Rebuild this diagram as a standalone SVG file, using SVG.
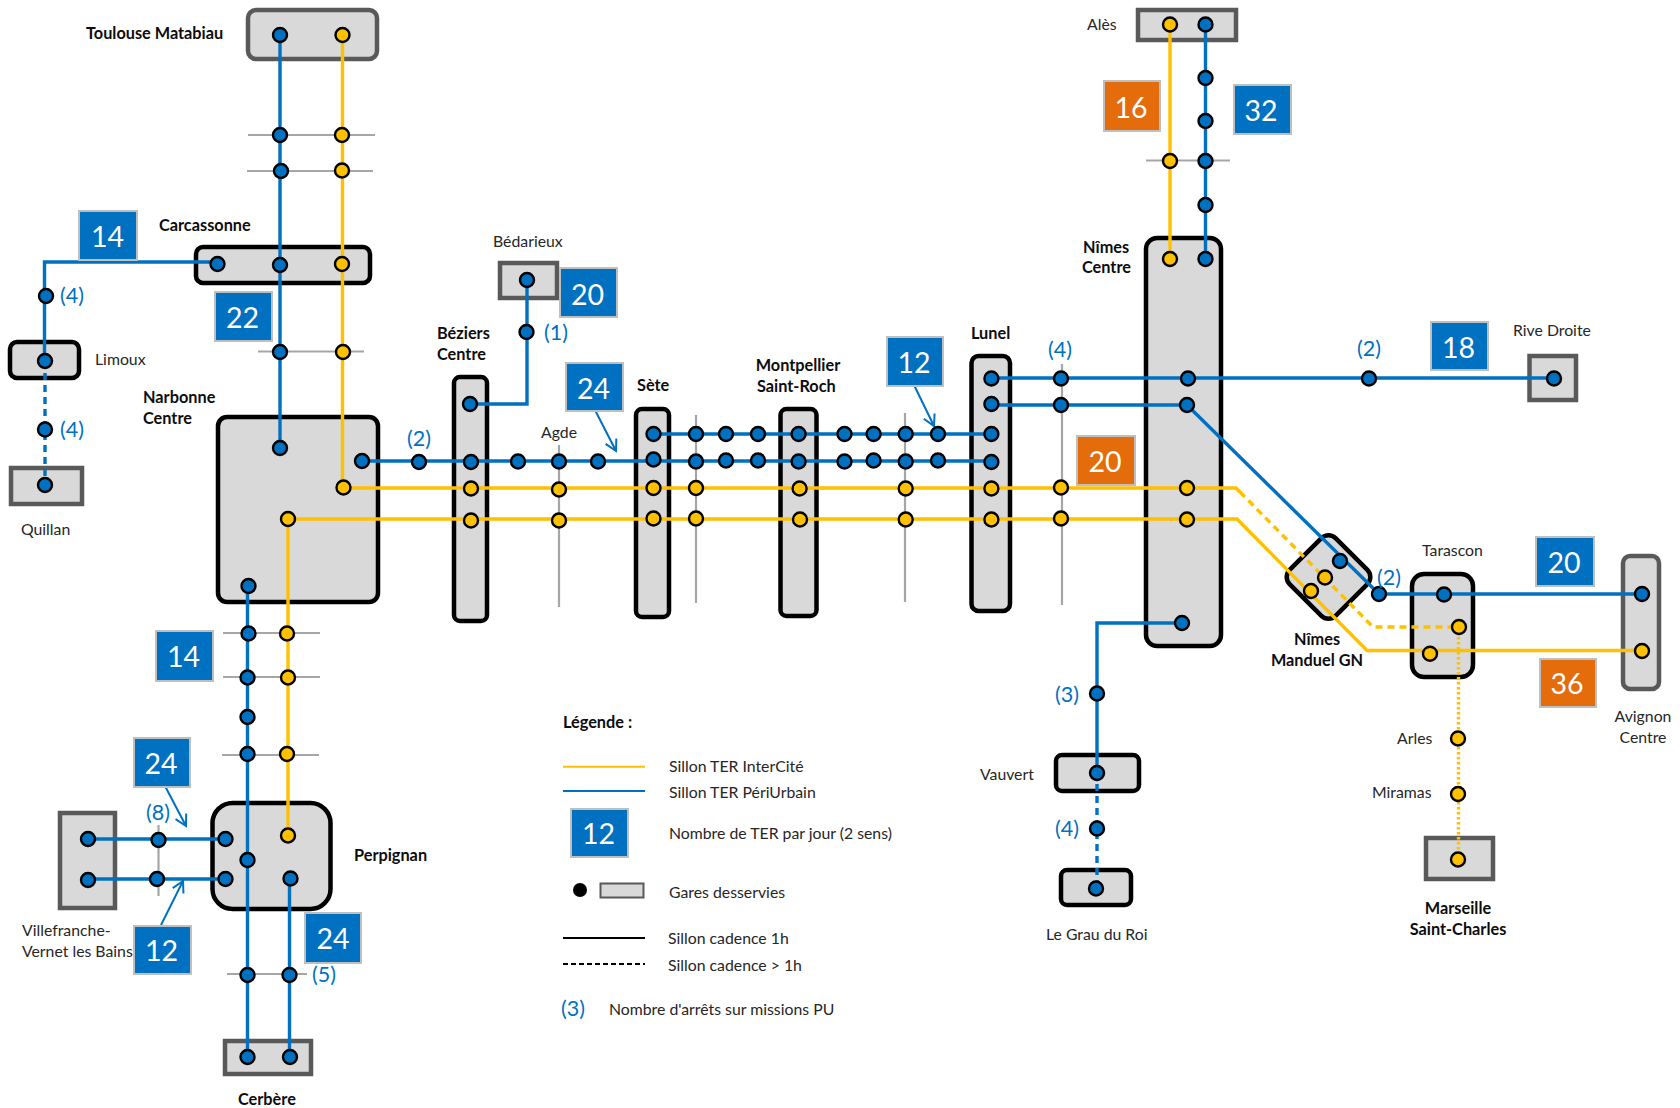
<svg xmlns="http://www.w3.org/2000/svg" width="1680" height="1108" viewBox="0 0 1680 1108">
<style>
text{font-family:"Lato","Liberation Sans",sans-serif;fill:#262626;font-size:15.8px}
.b{font-weight:700;fill:#0d0d0d;font-size:16.300px}
.m{text-anchor:middle}
.st{fill:#D9D9D9;stroke-width:4.5}
.k{stroke:#000}
.g{stroke:#595959}
.pb,.py,.lg,.ar,.lk{fill:none}
.pb{stroke:#0070C0;stroke-width:3.4}
.py{stroke:#FFC000;stroke-width:3.4}
.lg{stroke:#A6A6A6;stroke-width:2.2}
.ar{stroke:#0070C0;stroke-width:2;marker-end:url(#open)}
.dash{stroke-dasharray:7 5}
.dot{stroke-dasharray:2.5 2.5}
.sb,.sy{stroke:#000;stroke-width:2.4}
.sb{fill:#0070C0}
.sy{fill:#FFC000}
.cb,.co{stroke:#BFBFBF;stroke-width:2}
.cb{fill:#0070C0}
.co{fill:#E46C0A}
.n{fill:#fff;font-size:28.5px;text-anchor:middle}
.p{fill:#0070C0;font-size:21.5px}
</style>
<defs>
<marker id="open" viewBox="0 0 14 14" refX="12" refY="7" markerWidth="14" markerHeight="14" markerUnits="userSpaceOnUse" orient="auto"><path d="M1 1L12 7L1 13" fill="none" stroke="#0070C0" stroke-width="2"/></marker>
</defs>

<g id="grid-lines">
<path class="lg" d="M248 135H375M247 171H373M258 351.500H364M223 633H320M223 677H320M222 755H319M227 974H307M158.500 825V896M559 445V607M696 415V603M905 413V602M1062 364V605M1146 160.500H1230"/>
</g>

<g id="node-toulouse"><rect class="st g" x="248" y="10" width="129" height="49" rx="8"/><text class="b" x="86" y="38.500">Toulouse Matabiau</text></g>
<g id="node-carcassonne"><rect class="st k" x="196" y="247" width="174" height="36" rx="7"/><text class="b" x="159" y="230.500">Carcassonne</text></g>
<g id="node-limoux"><rect class="st k" x="10" y="342" width="69" height="36" rx="7"/><text x="95" y="365">Limoux</text></g>
<g id="node-quillan"><rect class="st g" x="11" y="468" width="71" height="36"/><text x="21" y="535">Quillan</text></g>
<g id="node-narbonne"><rect class="st k" x="218" y="417" width="160" height="185" rx="9"/><text class="b" x="143" y="402.500">Narbonne</text><text class="b" x="143" y="424">Centre</text></g>
<g id="node-bedarieux"><rect class="st g" x="500" y="263" width="57" height="35"/><text x="493" y="246.500">Bédarieux</text></g>
<g id="node-beziers"><rect class="st k" x="454" y="377" width="33" height="244" rx="6"/><text class="b" x="437" y="339">Béziers</text><text class="b" x="437" y="360">Centre</text></g>
<g id="node-agde"><text x="541" y="438">Agde</text></g>
<g id="node-sete"><rect class="st k" x="636" y="409" width="33" height="208" rx="6"/><text class="b" x="637" y="391">Sète</text></g>
<g id="node-montpellier"><rect class="st k" x="780.500" y="409" width="36" height="207" rx="6"/><text class="b" x="755.700" y="371">Montpellier</text><text class="b" x="757" y="392">Saint-Roch</text></g>
<g id="node-lunel"><rect class="st k" x="971.500" y="356" width="38.500" height="255" rx="7"/><text class="b" x="971" y="339">Lunel</text></g>
<g id="node-nimes-centre"><rect class="st k" x="1146" y="238" width="75" height="408" rx="11"/><text class="b" x="1083" y="253">Nîmes</text><text class="b" x="1082" y="273">Centre</text></g>
<g id="node-ales"><rect class="st g" x="1138" y="10" width="98" height="30"/><text x="1087" y="30">Alès</text></g>
<g id="node-rive-droite"><rect class="st g" x="1529.500" y="356" width="46.500" height="44"/><text x="1513" y="336">Rive Droite</text></g>
<g id="node-manduel"><rect class="st k" x="-32.500" y="-32.500" width="65" height="65" rx="10" transform="translate(1328.500 577) rotate(45)"/><text class="b m" x="1317" y="645">Nîmes</text><text class="b m" x="1317" y="665.600">Manduel GN</text></g>
<g id="node-tarascon"><rect class="st k" x="1412" y="574" width="61" height="103" rx="12"/><text x="1422" y="556">Tarascon</text></g>
<g id="node-avignon"><rect class="st g" x="1623" y="556" width="36" height="133" rx="7"/><text class="m" x="1643" y="722">Avignon</text><text class="m" x="1643" y="743">Centre</text></g>
<g id="node-arles"><text x="1397" y="744">Arles</text></g>
<g id="node-miramas"><text x="1372" y="798">Miramas</text></g>
<g id="node-marseille"><rect class="st g" x="1426" y="838" width="67" height="41"/><text class="b m" x="1458" y="914">Marseille</text><text class="b m" x="1458" y="935">Saint-Charles</text></g>
<g id="node-vauvert"><rect class="st k" x="1056" y="755" width="83" height="36" rx="6"/><text x="980" y="780">Vauvert</text></g>
<g id="node-grau"><rect class="st k" x="1061" y="870" width="70" height="35" rx="6"/><text x="1046" y="940">Le Grau du Roi</text></g>
<g id="node-perpignan"><rect class="st k" x="212.500" y="803" width="118" height="106" rx="20"/><text class="b" x="354" y="861">Perpignan</text></g>
<g id="node-villefranche"><rect class="st g" x="60" y="813" width="55" height="95"/><text x="22" y="935.500">Villefranche-</text><text x="22" y="956.600">Vernet les Bains</text></g>
<g id="node-cerbere"><rect class="st g" x="225" y="1041" width="86" height="33"/><text class="b" x="238" y="1105">Cerbère</text></g>

<g id="connectors">
<path class="pb" d="M280 35V448M217 262H44.500V361"/>
<path class="pb dash" d="M45 361V485"/>
<path class="py" d="M342.500 35V488H1236L1240 492"/>
<path class="pb" d="M362 461H991M527 280V404H470M653 434H991"/>
<path class="py" d="M288 519H1237L1367 650.500H1642M288 519V836"/>
<path class="py dash" d="M1240 492L1373 627H1459"/>
<path class="py dot" d="M1458.500 627V859"/>
<path class="pb" d="M247.500 586V1057M289.500 879V1057M88 839H225M88 879H225"/>
<path class="py" d="M1170 24.500V259"/>
<path class="pb" d="M1205.500 24.500V259M991 378H1554M991 405H1187L1379 594H1642M1182 623H1097V772"/>
<path class="pb dash" d="M1097 772V888"/>
<path class="ar" d="M165 786L186 826"/>
<path class="ar" d="M161 925L183 881"/>
<path class="ar" d="M595 410L616 451"/>
<path class="ar" d="M914 385L934 426"/>
</g>

<g id="stops">
<circle class="sb" cx="280" cy="35" r="7"/><circle class="sy" cx="342.500" cy="35" r="7"/>
<circle class="sb" cx="280" cy="135" r="7"/><circle class="sy" cx="342" cy="135" r="7"/>
<circle class="sb" cx="281" cy="171" r="7"/><circle class="sy" cx="342" cy="170.500" r="7"/>
<circle class="sb" cx="217.500" cy="264" r="7"/><circle class="sb" cx="280" cy="265" r="7"/><circle class="sy" cx="342" cy="264" r="7"/>
<circle class="sb" cx="46" cy="296" r="7"/><circle class="sb" cx="45" cy="361" r="7"/><circle class="sb" cx="45" cy="429.500" r="7"/><circle class="sb" cx="45" cy="485" r="7"/>
<circle class="sb" cx="280" cy="352" r="7"/><circle class="sy" cx="343" cy="352" r="7"/>
<circle class="sb" cx="280" cy="448" r="7"/><circle class="sb" cx="362" cy="461" r="7"/><circle class="sb" cx="419" cy="462" r="7"/>
<circle class="sy" cx="343.500" cy="487.500" r="7"/><circle class="sy" cx="288" cy="519" r="7"/>
<circle class="sb" cx="248.500" cy="586" r="7"/>
<circle class="sb" cx="248.500" cy="633.500" r="7"/><circle class="sy" cx="287" cy="633.500" r="7"/>
<circle class="sb" cx="247.500" cy="677.500" r="7"/><circle class="sy" cx="288" cy="677.500" r="7"/>
<circle class="sb" cx="247.500" cy="717" r="7"/>
<circle class="sb" cx="247.500" cy="754" r="7"/><circle class="sy" cx="287" cy="754" r="7"/>
<circle class="sb" cx="225.500" cy="839" r="7"/><circle class="sb" cx="225.500" cy="879" r="7"/><circle class="sb" cx="247.500" cy="860" r="7"/><circle class="sy" cx="288" cy="835.500" r="7"/><circle class="sb" cx="290.500" cy="878.500" r="7"/>
<circle class="sb" cx="247.500" cy="975" r="7"/><circle class="sb" cx="289.500" cy="975" r="7"/>
<circle class="sb" cx="247.500" cy="1057" r="7"/><circle class="sb" cx="290" cy="1057" r="7"/>
<circle class="sb" cx="88" cy="839" r="7"/><circle class="sb" cx="88" cy="880" r="7"/><circle class="sb" cx="158.500" cy="840" r="7"/><circle class="sb" cx="157" cy="879" r="7"/>
<circle class="sb" cx="527" cy="280" r="7"/><circle class="sb" cx="526.500" cy="332" r="7"/><circle class="sb" cx="470" cy="404" r="7"/>
<circle class="sb" cx="471" cy="462" r="7"/><circle class="sb" cx="518" cy="461.500" r="7"/><circle class="sb" cx="559" cy="461.500" r="7"/><circle class="sb" cx="598" cy="461.500" r="7"/>
<circle class="sb" cx="653.500" cy="434" r="7"/><circle class="sb" cx="653.500" cy="459.500" r="7"/>
<circle class="sb" cx="696" cy="434" r="7"/><circle class="sb" cx="726" cy="434" r="7"/><circle class="sb" cx="758" cy="434" r="7"/><circle class="sb" cx="798.600" cy="434" r="7"/><circle class="sb" cx="844.500" cy="434" r="7"/><circle class="sb" cx="873.600" cy="434" r="7"/><circle class="sb" cx="905.700" cy="434" r="7"/><circle class="sb" cx="938" cy="434" r="7"/><circle class="sb" cx="991.400" cy="434" r="7"/>
<circle class="sb" cx="696" cy="461.500" r="7"/><circle class="sb" cx="726" cy="460.500" r="7"/><circle class="sb" cx="758" cy="460.500" r="7"/><circle class="sb" cx="798.600" cy="461.500" r="7"/><circle class="sb" cx="844.500" cy="461.500" r="7"/><circle class="sb" cx="873.600" cy="460.500" r="7"/><circle class="sb" cx="905.700" cy="461.500" r="7"/><circle class="sb" cx="938" cy="460.500" r="7"/><circle class="sb" cx="991.400" cy="462" r="7"/>
<circle class="sy" cx="471" cy="488.500" r="7"/><circle class="sy" cx="471" cy="520.500" r="7"/><circle class="sy" cx="559" cy="489.500" r="7"/><circle class="sy" cx="559" cy="520.500" r="7"/>
<circle class="sy" cx="653.500" cy="488" r="7"/><circle class="sy" cx="653.500" cy="518.500" r="7"/><circle class="sy" cx="696" cy="488" r="7"/><circle class="sy" cx="696" cy="518.500" r="7"/>
<circle class="sy" cx="799.600" cy="488.500" r="7"/><circle class="sy" cx="800" cy="519.500" r="7"/><circle class="sy" cx="905.700" cy="488.500" r="7"/><circle class="sy" cx="905.700" cy="519.500" r="7"/>
<circle class="sy" cx="991.400" cy="488.500" r="7"/><circle class="sy" cx="991.400" cy="519.500" r="7"/><circle class="sy" cx="1061" cy="487.500" r="7"/><circle class="sy" cx="1061" cy="518.500" r="7"/>
<circle class="sy" cx="1187" cy="488" r="7"/><circle class="sy" cx="1187" cy="519.500" r="7"/>
<circle class="sb" cx="991.400" cy="378.500" r="7"/><circle class="sb" cx="991.400" cy="404" r="7"/>
<circle class="sb" cx="1061" cy="378.500" r="7"/><circle class="sb" cx="1061" cy="405" r="7"/>
<circle class="sb" cx="1188" cy="378.500" r="7"/><circle class="sb" cx="1187" cy="405" r="7"/><circle class="sb" cx="1369" cy="378.500" r="7"/><circle class="sb" cx="1554" cy="378.500" r="7"/>
<circle class="sy" cx="1170" cy="24.500" r="7"/><circle class="sb" cx="1205.500" cy="24.500" r="7"/>
<circle class="sb" cx="1205.500" cy="78" r="7"/><circle class="sb" cx="1205.500" cy="121" r="7"/><circle class="sb" cx="1205.500" cy="161" r="7"/><circle class="sy" cx="1170" cy="161" r="7"/><circle class="sb" cx="1205.500" cy="205" r="7"/>
<circle class="sy" cx="1170" cy="259" r="7"/><circle class="sb" cx="1205.500" cy="259" r="7"/>
<circle class="sb" cx="1340" cy="561" r="7"/><circle class="sy" cx="1325" cy="577.500" r="7"/><circle class="sy" cx="1311" cy="591" r="7"/>
<circle class="sb" cx="1379" cy="594" r="7"/><circle class="sb" cx="1444" cy="594.500" r="7"/><circle class="sb" cx="1642" cy="594" r="7"/>
<circle class="sy" cx="1459" cy="627" r="7"/><circle class="sy" cx="1430" cy="653.700" r="7"/><circle class="sy" cx="1642" cy="651" r="7"/>
<circle class="sy" cx="1458" cy="738.500" r="7"/><circle class="sy" cx="1458" cy="794" r="7"/><circle class="sy" cx="1458" cy="859.500" r="7"/>
<circle class="sb" cx="1182" cy="623" r="7"/><circle class="sb" cx="1097" cy="693.500" r="7"/><circle class="sb" cx="1097" cy="773" r="7"/><circle class="sb" cx="1097" cy="828.500" r="7"/><circle class="sb" cx="1096" cy="888.500" r="7"/>
</g>

<g id="counts">
<rect class="cb" x="79" y="211" width="58" height="49"/><text class="n" x="107.500" y="247">14</text>
<rect class="cb" x="215" y="292" width="57" height="49"/><text class="n" x="242.500" y="328">22</text>
<rect class="cb" x="156" y="631" width="57" height="50"/><text class="n" x="183.500" y="667">14</text>
<rect class="cb" x="134" y="738" width="56" height="49"/><text class="n" x="161" y="774">24</text>
<rect class="cb" x="134" y="926" width="57" height="48"/><text class="n" x="161.500" y="961">12</text>
<rect class="cb" x="305" y="913" width="56" height="50"/><text class="n" x="333" y="949">24</text>
<rect class="cb" x="560" y="268" width="57" height="49"/><text class="n" x="587.500" y="305">20</text>
<rect class="cb" x="566" y="363" width="57" height="48"/><text class="n" x="593.500" y="399">24</text>
<rect class="cb" x="887" y="337" width="56" height="49"/><text class="n" x="914" y="373">12</text>
<rect class="co" x="1077" y="436" width="58" height="49"/><text class="n" x="1105" y="472">20</text>
<rect class="co" x="1104" y="81" width="56" height="50"/><text class="n" x="1131" y="118">16</text>
<rect class="cb" x="1234" y="85" width="57" height="49"/><text class="n" x="1261" y="121">32</text>
<rect class="cb" x="1431" y="322" width="57" height="48"/><text class="n" x="1458.500" y="358">18</text>
<rect class="cb" x="1536" y="537" width="58" height="49"/><text class="n" x="1564" y="573">20</text>
<rect class="co" x="1540" y="659" width="56" height="48"/><text class="n" x="1567" y="694">36</text>
</g>

<g id="stop-counts">
<text class="p" x="60" y="303">(4)</text><text class="p" x="60" y="436.500">(4)</text><text class="p" x="407" y="445.700">(2)</text><text class="p" x="544" y="340">(1)</text>
<text class="p" x="146" y="820">(8)</text><text class="p" x="312" y="982">(5)</text><text class="p" x="1048" y="357">(4)</text><text class="p" x="1357" y="356">(2)</text>
<text class="p" x="1377" y="585">(2)</text><text class="p" x="1055" y="702">(3)</text><text class="p" x="1055" y="836">(4)</text>
</g>

<g id="legend">
<text class="b" x="563" y="727.500">Légende :</text>
<path fill="none" stroke="#FFC000" stroke-width="2" d="M563 766.700H645"/>
<path fill="none" stroke="#0070C0" stroke-width="2" d="M563 791H645"/>
<text x="669" y="771.700">Sillon TER InterCité</text>
<text x="669" y="797.700">Sillon TER PériUrbain</text>
<rect class="cb" x="571" y="809" width="57" height="48"/><text class="n" x="598.500" y="844">12</text>
<text x="669" y="839">Nombre de TER par jour (2 sens)</text>
<circle cx="580" cy="890" r="7" fill="#000"/>
<rect x="600.500" y="883.500" width="43" height="14" fill="#D9D9D9" stroke="#595959" stroke-width="2"/>
<text x="669" y="897.700">Gares desservies</text>
<path fill="none" stroke="#000" stroke-width="2" d="M563 938H645"/>
<path fill="none" stroke="#000" stroke-width="2" stroke-dasharray="5 3" d="M563 964H645"/>
<text x="668" y="944">Sillon cadence 1h</text>
<text x="668" y="971">Sillon cadence &gt; 1h</text>
<text class="p" x="561" y="1016">(3)</text>
<text x="609" y="1015">Nombre d'arrêts sur missions PU</text>
</g>
</svg>
